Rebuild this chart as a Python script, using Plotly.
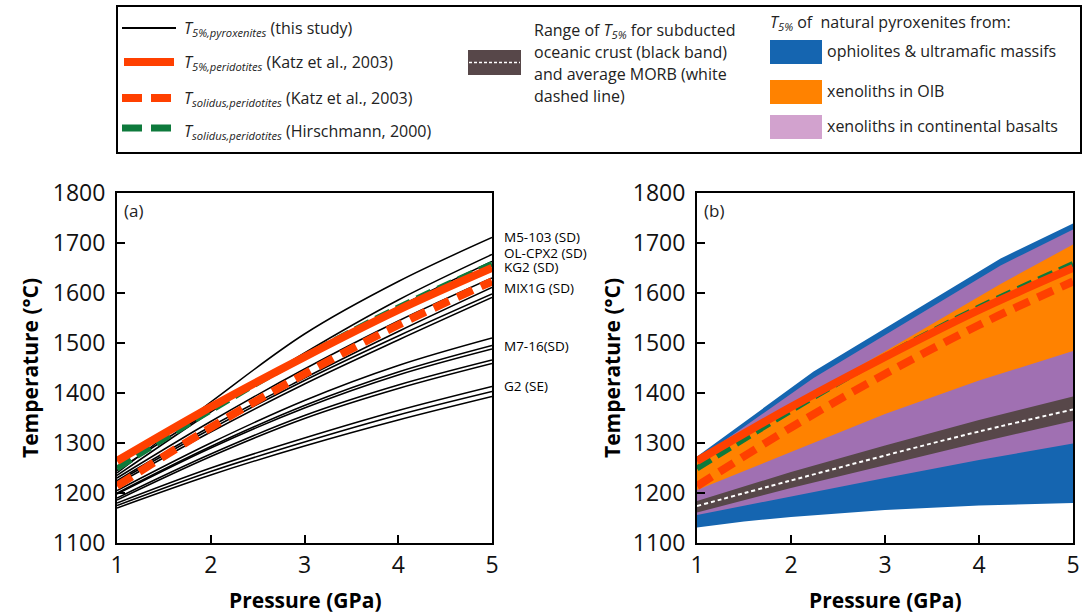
import plotly.graph_objects as go

W, H = 1089, 615

# ---------------- data ----------------
P = [1, 2, 3, 4, 5]

# Panel (a): T5% of pyroxenites (this study), black lines
pyroxenite_lines = {
    "M5-103 (SD)": [1240, 1382, 1518, 1623, 1711],
    "OL-CPX2 (SD)": [1235, 1362, 1480, 1586, 1677],
    "KG2 (SD)": [1245, 1364, 1472, 1572, 1663],
    "line_a": [1230, 1343, 1448, 1544, 1630],
    "MIX1G (SD)": [1225, 1333, 1430, 1523, 1611],
    "line_b": [1222, 1328, 1425, 1514, 1598],
    "line_c": [1218, 1322, 1418, 1506, 1591],
    "line_d": [1205, 1300, 1385, 1455, 1510],
    "M7-16(SD)": [1200, 1293, 1375, 1442, 1495],
    "line_e": [1198, 1290, 1370, 1436, 1488],
    "line_f": [1190, 1278, 1355, 1416, 1466],
    "line_g": [1186, 1273, 1349, 1409, 1459],
    "G2 (SE)": [1180, 1250, 1310, 1365, 1413],
    "line_h": [1175, 1243, 1302, 1356, 1403],
    "line_i": [1170, 1236, 1294, 1346, 1393],
}

# labelled curves: tick temperature at P=5 and text temperature
curve_labels = ["M5-103 (SD)", "OL-CPX2 (SD)", "KG2 (SD)", "MIX1G (SD)", "M7-16(SD)", "G2 (SE)"]
label_tick_T = [1711, 1677, 1663, 1611, 1495, 1415]
label_text_T = [1713, 1680, 1652, 1611, 1494, 1414]

# peridotite references
katz_t5 = [1264, 1372, 1472, 1566, 1650]
katz_solidus = [1214, 1331, 1438, 1536, 1623]
hirschmann_solidus = [1249, 1365, 1473, 1571, 1658]

# Panel (b): ranges of natural pyroxenites
ophio_top_P = [1, 2.24, 4.23, 5]
ophio_top_T = [1273, 1443, 1669, 1739]
ophio_bot_P = [1, 1.5, 2, 3, 4, 5]
ophio_bot_T = [1131, 1143, 1152, 1166, 1175, 1180]

cont_top_P = [1, 2.24, 4.23, 5]
cont_top_T = [1266, 1430, 1655, 1727]
cont_bot_P = [1, 2, 3, 4, 5]
cont_bot_T = [1156, 1193, 1230, 1266, 1299]

oib_top_P = [1, 2.24, 3.3, 4.23, 5]
oib_top_T = [1262, 1400, 1516, 1618, 1697]
oib_bot_P = [1, 2, 3, 4, 5]
oib_bot_T = [1206, 1282, 1358, 1425, 1484]

crust_top_T = [1184, 1242, 1295, 1346, 1393]
crust_bot_T = [1161, 1210, 1256, 1301, 1344]
morb_T = [1174, 1225, 1275, 1323, 1367]

x_ticks = [1, 2, 3, 4, 5]
y_ticks = [1100, 1200, 1300, 1400, 1500, 1600, 1700, 1800]

# ---------------- styles ----------------
RED = "#FF4000"
GREEN = "#0E7A3C"
BLUE = "#1565B0"
ORANGE = "#FF8200"
PURPLE = "#A070B2"
PURPLE_LEG = "#D2A2CE"
CRUST = "#574749"
FONT = "Open Sans"


def px(x):
    return x / W


def py(y):
    return 1 - y / H


fig = go.Figure()


def poly(xt, yt, xb, yb):
    return list(xt) + list(xb)[::-1], list(yt) + list(yb)[::-1]


# Panel (a)
for name, T in pyroxenite_lines.items():
    fig.add_trace(go.Scatter(x=P, y=T, mode="lines", line=dict(color="black", width=1.5, shape="spline"),
                             xaxis="x", yaxis="y", showlegend=False, hoverinfo="skip"))


def ref_lines(xa, ya):
    fig.add_trace(go.Scatter(x=P, y=hirschmann_solidus, mode="lines",
                             line=dict(color=GREEN, width=6, dash="16px,7px", shape="spline"),
                             xaxis=xa, yaxis=ya, showlegend=False))
    fig.add_trace(go.Scatter(x=P, y=katz_t5, mode="lines",
                             line=dict(color=RED, width=8, shape="spline"),
                             xaxis=xa, yaxis=ya, showlegend=False))
    fig.add_trace(go.Scatter(x=P, y=katz_solidus, mode="lines",
                             line=dict(color=RED, width=8, dash="17px,9px", shape="spline"),
                             xaxis=xa, yaxis=ya, showlegend=False))


ref_lines("x", "y")

# Panel (b) bands
for xt, yt, xb, yb, col in [
    (ophio_top_P, ophio_top_T, ophio_bot_P, ophio_bot_T, BLUE),
    (cont_top_P, cont_top_T, cont_bot_P, cont_bot_T, PURPLE),
    (oib_top_P, oib_top_T, oib_bot_P, oib_bot_T, ORANGE),
    (P, crust_top_T, P, crust_bot_T, CRUST),
]:
    xs, ys = poly(xt, yt, xb, yb)
    fig.add_trace(go.Scatter(x=xs, y=ys, mode="lines", fill="toself", fillcolor=col,
                             line=dict(width=0, color=col), xaxis="x2", yaxis="y2", showlegend=False,
                             hoverinfo="skip"))
fig.add_trace(go.Scatter(x=P, y=morb_T, mode="lines", line=dict(color="white", width=2, dash="4px,3px", shape="spline"),
                         xaxis="x2", yaxis="y2", showlegend=False))
ref_lines("x2", "y2")

# ---------------- axes ----------------
ydom = [py(543), py(193)]
axis_common = dict(showgrid=False, zeroline=False, showline=True, linecolor="black", linewidth=2,
                   mirror=True, ticks="inside", ticklen=8, tickwidth=2, tickcolor="black",
                   automargin=False,
                   tickfont=dict(family=FONT, size=23, color="#111"))
fig.update_layout(
    template="none",
    width=W, height=H, margin=dict(l=0, r=0, t=0, b=0, pad=0, autoexpand=False),
    paper_bgcolor="white", plot_bgcolor="white",
    xaxis=dict(domain=[px(117), px(492)], range=[1, 5], tickvals=x_ticks, anchor="y", **axis_common),
    yaxis=dict(domain=ydom, range=[1100, 1800], tickvals=y_ticks, anchor="x", ticklabelstandoff=5, **axis_common),
    xaxis2=dict(domain=[px(697), px(1073)], range=[1, 5], tickvals=x_ticks, anchor="y2", **axis_common),
    yaxis2=dict(domain=ydom, range=[1100, 1800], tickvals=y_ticks, anchor="x2", ticklabelstandoff=5, **axis_common),
    showlegend=False,
)

ann = []
shapes = []

# axis titles
for xc in [30, 612]:
    ann.append(dict(x=px(xc), y=py(368), xref="paper", yref="paper", text="<b>Temperature (°C)</b>",
                    xanchor="center", yanchor="middle",
                    textangle=-90, showarrow=False, font=dict(family=FONT, size=21, color="black")))
for xc in [305, 885]:
    ann.append(dict(x=px(xc), y=py(600), xref="paper", yref="paper", text="<b>Pressure (GPa)</b>",
                    xanchor="center", yanchor="middle",
                    showarrow=False, font=dict(family=FONT, size=21, color="black")))
# panel labels
ann.append(dict(x=px(122), y=py(210), xref="paper", yref="paper", text="(a)", xanchor="left", yanchor="middle",
                showarrow=False, font=dict(family=FONT, size=17, color="#222")))
ann.append(dict(x=px(702), y=py(210), xref="paper", yref="paper", text="(b)", xanchor="left", yanchor="middle",
                showarrow=False, font=dict(family=FONT, size=17, color="#222")))

# curve labels panel (a)
for lab, tT, lT in zip(curve_labels, label_tick_T, label_text_T):
    shapes.append(dict(type="line", xref="x", yref="y", xsizemode="pixel", xanchor=5, x0=0, x1=9,
                       y0=tT, y1=tT, line=dict(color="black", width=1.6)))
    ann.append(dict(x=5, y=lT, xref="x", yref="y", xanchor="left", yanchor="middle", xshift=10, text=lab,
                    showarrow=False, font=dict(family=FONT, size=13.5, color="black")))

# ---------------- legend box ----------------
shapes.append(dict(type="rect", xref="paper", yref="paper", x0=px(117), x1=px(1081), y0=py(153), y1=py(6),
                   line=dict(color="black", width=2), fillcolor="rgba(0,0,0,0)"))
LF = dict(family=FONT, size=16, color="#222")
# column 1
shapes.append(dict(type="line", xref="paper", yref="paper", x0=px(122), x1=px(176), y0=py(28), y1=py(28),
                   line=dict(color="black", width=1.8)))
shapes.append(dict(type="line", xref="paper", yref="paper", x0=px(124), x1=px(174), y0=py(62), y1=py(62),
                   line=dict(color=RED, width=8)))
shapes.append(dict(type="line", xref="paper", yref="paper", x0=px(122), x1=px(172), y0=py(98), y1=py(98),
                   line=dict(color=RED, width=8, dash="20px,9px")))
shapes.append(dict(type="line", xref="paper", yref="paper", x0=px(122), x1=px(172), y0=py(128), y1=py(128),
                   line=dict(color=GREEN, width=7, dash="20px,9px")))
col1 = [
    (28, "<i>T</i><sub><i>5%,pyroxenites</i></sub> (this study)"),
    (62, "<i>T</i><sub><i>5%,peridotites</i></sub> (Katz et al., 2003)"),
    (98, "<i>T</i><sub><i>solidus,peridotites</i></sub> (Katz et al., 2003)"),
    (131, "<i>T</i><sub><i>solidus,peridotites</i></sub> (Hirschmann, 2000)"),
]
for yy, t in col1:
    ann.append(dict(x=px(182), y=py(yy), xref="paper", yref="paper", xanchor="left", yanchor="middle",
                    text=t, showarrow=False, font=LF))
# column 2
shapes.append(dict(type="rect", xref="paper", yref="paper", x0=px(468), x1=px(521), y0=py(75), y1=py(50),
                   line=dict(width=0), fillcolor=CRUST))
shapes.append(dict(type="line", xref="paper", yref="paper", x0=px(469), x1=px(520), y0=py(62.5), y1=py(62.5),
                   line=dict(color="white", width=1.5, dash="3px,2px")))
col2 = [
    (30, "Range of <i>T</i><sub><i>5%</i></sub> for subducted"),
    (52, "oceanic crust (black band)"),
    (74, "and average MORB (white"),
    (96, "dashed line)"),
]
for yy, t in col2:
    ann.append(dict(x=px(532), y=py(yy), xref="paper", yref="paper", xanchor="left", yanchor="middle",
                    text=t, showarrow=False, font=LF))
# column 3
ann.append(dict(x=px(768), y=py(23), xref="paper", yref="paper", xanchor="left", yanchor="middle",
                text="<i>T</i><sub><i>5%</i></sub> of  natural pyroxenites from:", showarrow=False, font=LF))
for (y0, y1, col, txt) in [(40, 64, BLUE, "ophiolites & ultramafic massifs"),
                           (80, 104, ORANGE, "xenoliths in OIB"),
                           (115, 139, PURPLE_LEG, "xenoliths in continental basalts")]:
    shapes.append(dict(type="rect", xref="paper", yref="paper", x0=px(770), x1=px(822), y0=py(y1), y1=py(y0),
                       line=dict(width=0), fillcolor=col))
    ann.append(dict(x=px(825), y=py((y0 + y1) / 2 - 1), xref="paper", yref="paper", xanchor="left",
                    yanchor="middle", text=txt, showarrow=False, font=LF))

fig.update_layout(annotations=ann, shapes=shapes)
fig.write_html("out.html")
